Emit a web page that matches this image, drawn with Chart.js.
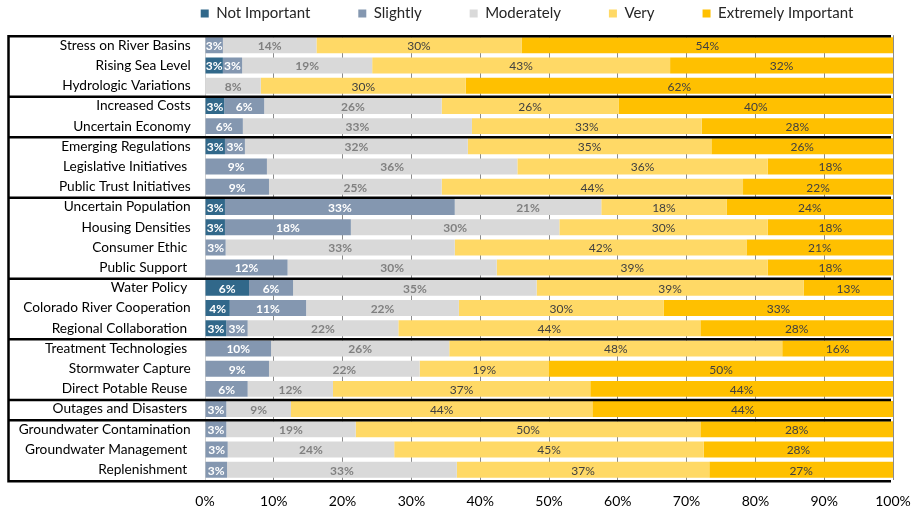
<!DOCTYPE html>
<html><head><meta charset="utf-8">
<script src="https://cdn.jsdelivr.net/npm/chart.js@4.4.1/dist/chart.umd.min.js"></script>
<style>html,body{margin:0;padding:0;background:#fff;} #wrap{position:relative;width:915px;height:510px;}</style>
</head><body><div id="wrap"><canvas id="c"></canvas></div>
<script>
const categories = ['Stress on River Basins','Rising Sea Level','Hydrologic Variations','Increased Costs','Uncertain Economy','Emerging Regulations','Legislative Initiatives ','Public Trust Initiatives','Uncertain Population','Housing Densities','Consumer Ethic ','Public Support ','Water Policy ','Colorado River Cooperation','Regional Collaboration ','Treatment Technologies ','Stormwater Capture','Direct Potable Reuse ','Outages and Disasters ','Groundwater Contamination','Groundwater Management ','Replenishment '];
const seriesNames = ['Not Important','Slightly','Moderately','Very','Extremely Important'];
const notImportant = [0,2.6,0,2.8,0,2.9,0,0,2.9,2.9,0,0,6.4,3.6,3.1,0,0,0,0,0,0,0];
const slightly = [2.6,2.8,0,5.8,5.5,2.9,9.0,9.3,33.4,18.3,3.0,12.0,6.4,11.1,3.1,9.6,9.3,6.2,3.1,3.1,3.3,3.2];
const moderately = [13.6,18.9,8.1,25.8,33.3,32.4,36.4,25.1,21.3,30.3,33.3,30.4,35.4,22.2,21.9,25.9,21.9,12.4,9.4,18.8,24.2,33.4];
const very = [29.8,43.3,29.8,25.7,33.4,35.4,36.4,43.8,18.2,30.3,42.4,39.4,38.8,29.8,43.9,48.4,18.8,37.4,43.8,50.1,45.0,36.7];
const extremely = [54.0,32.4,62.1,39.9,27.8,26.4,18.2,21.8,24.2,18.2,21.3,18.2,13.0,33.3,28.0,16.1,50.0,44.0,43.7,28.0,27.5,26.7];
const groupEnds = [2,4,7,11,14,17,18];
const xTicks = [0,10,20,30,40,50,60,70,80,90,100];

const colors = ['#31688A','#8497B0','#D9D9D9','#FFD966','#FFC000'];
const labelColors = ['#FFFFFF','#FFFFFF','#808080','#404040','#404040'];
const labelWeights = ['bold','bold','bold','normal','normal'];
const FONT = 'Lato';
const LEGEND_PAD = 48;

const valueLabels = {
  id: 'valueLabels',
  afterDatasetsDraw(chart) {
    const ctx = chart.ctx;
    ctx.save();
    ctx.textAlign = 'center';
    ctx.textBaseline = 'middle';
    chart.data.datasets.forEach((ds, di) => {
      const meta = chart.getDatasetMeta(di);
      ctx.font = labelWeights[di] + ' 12px ' + FONT;
      ctx.fillStyle = labelColors[di];
      meta.data.forEach((el, i) => {
        const v = ds.data[i];
        if (!v) return;
        const p = el.getProps(['x','y','base'], true);
        ctx.fillText(Math.round(v) + '%', (p.x + p.base) / 2, p.y + 1);
      });
    });
    ctx.restore();
  }
};

const separators = {
  id: 'separators',
  afterDatasetsDraw(chart) {
    const ctx = chart.ctx, y = chart.scales.y, area = chart.chartArea;
    const x0 = 8.5, x1 = area.right - 2;
    const top = y.getPixelForValue(-0.5) + 1;
    const bottom = y.getPixelForValue(categories.length - 0.5) + 1.5;
    ctx.save();
    ctx.strokeStyle = '#000';
    ctx.lineWidth = 2.5;
    ctx.beginPath();
    [top, bottom, ...groupEnds.map(i => y.getPixelForValue(i + 0.5) + 1)].forEach(py => {
      ctx.moveTo(x0 - 1.25, py); ctx.lineTo(x1, py);
    });
    ctx.moveTo(x0, top); ctx.lineTo(x0, bottom);
    ctx.stroke();
    ctx.restore();
  }
};

const legendShift = {
  id: 'legendShift',
  afterLayout(chart) {
    const lg = chart.legend;
    if (!lg) return;
    const dx = 527 - (lg.left + lg.right) / 2;
    lg.left += dx; lg.right += dx;
    lg.top = 6 - LEGEND_PAD;
    lg.height = lg.bottom - lg.top;
  }
};

const data = {
  labels: categories,
  datasets: [notImportant, slightly, moderately, very, extremely].map((d, i) => ({
    label: seriesNames[i],
    data: d,
    backgroundColor: colors[i],
    borderWidth: 0,
    barPercentage: 0.79,
    categoryPercentage: 1.0
  }))
};

new Chart(document.getElementById('c'), {
  type: 'bar',
  data,
  plugins: [valueLabels, separators, legendShift],
  options: {
    indexAxis: 'y',
    responsive: true,
    maintainAspectRatio: false,
    devicePixelRatio: 1,
    animation: false,
    layout: { padding: { top: 0, right: 22, left: 0, bottom: 0 } },
    plugins: {
      legend: {
        position: 'top',
        maxHeight: 35.2,
        labels: {
          boxWidth: 8, boxHeight: 8, padding: LEGEND_PAD,
          color: '#262626',
          font: { family: FONT, size: 15 }
        }
      },
      tooltip: { enabled: false }
    },
    scales: {
      x: {
        stacked: true,
        min: 0, max: 100,
        afterFit(s) { s.height = 30.2; s.paddingLeft = 0; s.paddingRight = 0; },
        afterBuildTicks(s) { s.ticks = xTicks.map(v => ({ value: v })); },
        ticks: {
          padding: 13,
          color: '#000',
          font: { family: FONT, size: 14 },
          callback: v => v + '%'
        },
        grid: {
          drawTicks: false,
          color: ctx => (ctx.tick && ctx.tick.value === 0) ? '#D0D0D0' : '#8C8C8C',
          lineWidth: 1
        },
        border: { display: false }
      },
      y: {
        stacked: true,
        afterFit(s) { s.width = 205; },
        ticks: {
          padding: 14.3,
          color: '#000',
          font: { family: FONT, size: 13.7 },
          autoSkip: false
        },
        grid: { display: false, drawTicks: false },
        border: { display: false }
      }
    }
  }
});
</script></body></html>
